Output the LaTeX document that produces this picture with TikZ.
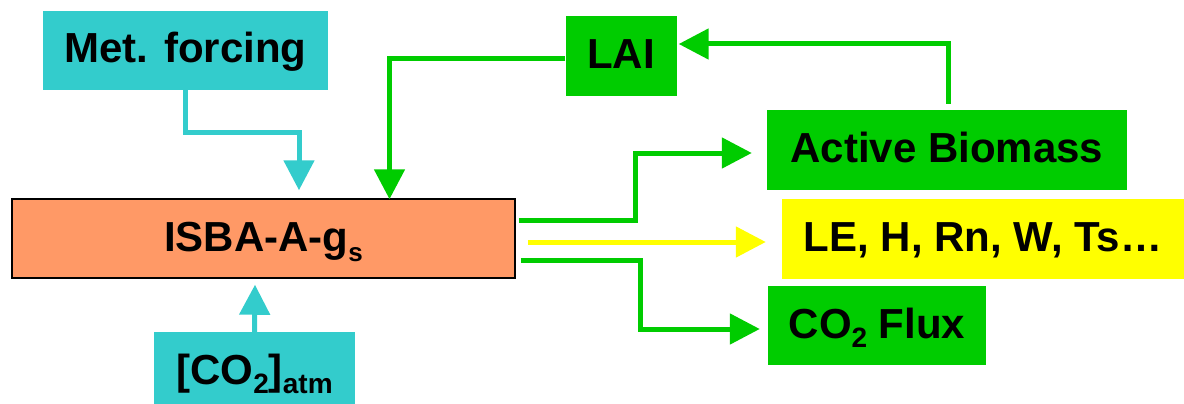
\documentclass[tikz,border=0pt]{standalone}
\usepackage{fontspec}
\setmainfont{Liberation Sans}
\usetikzlibrary{arrows.meta,calc}
\definecolor{cyanbox}{HTML}{33CCCC}
\definecolor{greenbox}{HTML}{00CC00}
\definecolor{orangebox}{HTML}{FF9966}
\definecolor{yellowbox}{HTML}{FFFF00}
% lowered, smaller text for chemical and model subscripts
\newcommand\lowsub[1]{\raisebox{-9pt}{\fontsize{28}{28}\selectfont #1}}

\begin{document}
\begin{tikzpicture}[x=1pt,y=-1pt,
  box/.style={inner sep=0pt, font=\fontsize{42}{48}\selectfont\bfseries,
              text height=35pt, text depth=10pt},
  link/.style={line width=5pt, line join=miter,
               -{Triangle[length=30pt,width=30pt]}},
]
\useasboundingbox (0,0) rectangle (1184,404);

% boxes
\node[box, fill=cyanbox, minimum width=285pt, minimum height=79pt] (met) at (185.5,50.5) {Met. forcing};
\node[box, fill=greenbox, minimum width=111pt, minimum height=80pt] (lai) at (621,56) {LAI};
\node[box, fill=greenbox, minimum width=360pt, minimum height=80pt] (bio) at (947,150) {Active Biomass};
\node[box, fill=orangebox, draw=black, line width=1.5pt, minimum width=503pt, minimum height=79pt] (isba) at (263.5,238.5) {ISBA-A-g\raisebox{-10pt}{\fontsize{26}{26}\selectfont s}};
\node[box, fill=yellowbox, minimum width=402pt, minimum height=80pt] (le) at (983,239) {LE, H, Rn, W, Ts…};
\node[box, fill=greenbox, minimum width=218pt, minimum height=79pt] (flux) at (877,325.5) {CO\lowsub{2} Flux};
\node[box, fill=cyanbox, text height=42pt, minimum width=201pt, minimum height=72pt] (co2) at (254.5,368) {[CO\lowsub{2}]\lowsub{atm}};

% connectors
\draw[link, cyanbox] (met.south) -- ++(0,42) -| ($(isba.north)+(35.5,-8)$);
\draw[link, greenbox] ($(lai.west)+(0,3)$) -| ($(isba.north)+(126,1)$);
\draw[link, greenbox] ($(bio.north)+(1,-6)$) |- ($(lai.east)+(2,-12)$);
\draw[link, greenbox] ($(isba.east)+(3,-18.5)$) -- ++(117,0) |- ($(bio.west)+(-15,3)$);
\draw[link, yellowbox] ($(isba.east)+(12,3.5)$) -- ($(le.west)+(-16,3)$);
\draw[link, greenbox] ($(isba.east)+(5,21.5)$) -- ++(120,0) |- ($(flux.west)+(-8,3.5)$);
\draw[link, cyanbox] (co2.north) -- ($(isba.south)+(-8.5,6)$);
\end{tikzpicture}
\end{document}
